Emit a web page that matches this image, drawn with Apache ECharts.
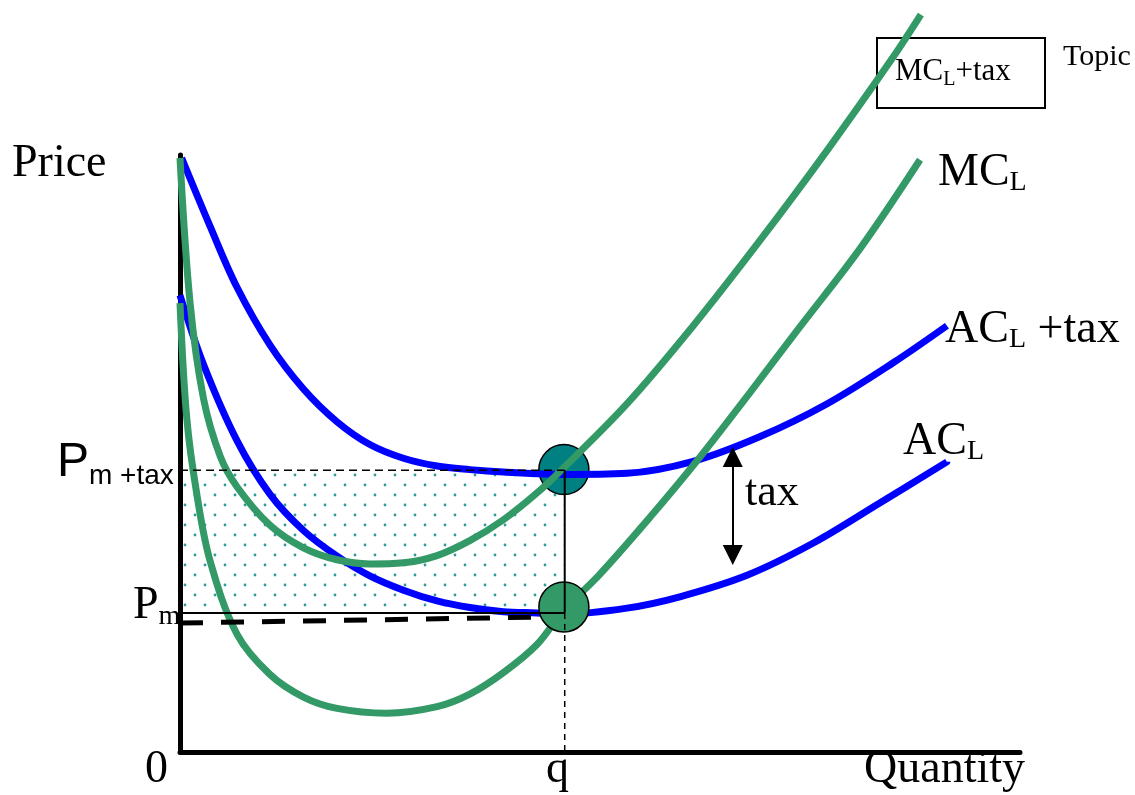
<!DOCTYPE html>
<html>
<head>
<meta charset="utf-8">
<script src="https://cdn.jsdelivr.net/npm/echarts@6/dist/echarts.min.js"></script>
<style>
  html, body { margin: 0; background: #fff; }
  #chart { width: 1135px; height: 795px; }
</style>
</head>
<body>
<div id="chart"></div>
<script>
// curves (quantity 0..10, price 0..10)
const acTaxQ = [0.02, 0.36, 0.68, 1.07, 1.47, 1.87, 2.26, 2.66, 3.06, 3.45, 3.85, 4.56, 5.32, 6.11, 6.90, 7.70, 8.49, 9.13]
const acTaxP = [9.95, 8.80, 7.78, 6.82, 6.08, 5.53, 5.15, 4.92, 4.79, 4.73, 4.69, 4.65, 4.67, 4.87, 5.28, 5.83, 6.52, 7.14]

const acQ = [0.0, 0.28, 0.68, 1.07, 1.47, 1.87, 2.26, 2.66, 3.06, 3.45, 3.85, 4.25, 4.56, 5.32, 5.95, 6.75, 7.54, 8.33, 9.13]
const acP = [7.65, 6.49, 5.21, 4.32, 3.71, 3.28, 2.95, 2.71, 2.53, 2.42, 2.35, 2.33, 2.31, 2.41, 2.60, 2.96, 3.50, 4.17, 4.86]

const mcTaxQ = [0.0, 0.12, 0.28, 0.48, 0.68, 1.07, 1.47, 1.87, 2.26, 2.66, 3.06, 3.45, 3.85, 4.25, 4.56, 5.32, 6.11, 6.90, 7.70, 8.49, 8.82]
const mcTaxP = [9.95, 7.52, 5.92, 4.95, 4.44, 3.80, 3.42, 3.22, 3.15, 3.17, 3.29, 3.54, 3.89, 4.34, 4.75, 5.83, 7.14, 8.56, 10.07, 11.64, 12.35]

const mcQ = [0.0, 0.08, 0.20, 0.36, 0.68, 1.07, 1.47, 1.87, 2.46, 3.06, 3.45, 3.85, 4.25, 4.56, 5.00, 5.60, 6.15, 6.79, 7.38, 8.10, 8.81]
const mcP = [7.52, 5.60, 4.32, 3.19, 1.97, 1.30, 0.92, 0.73, 0.65, 0.76, 0.97, 1.33, 1.80, 2.36, 2.98, 3.94, 4.87, 6.03, 7.12, 8.44, 9.92]

// market points
const qOut = 4.58
const pmTax = 4.72
const pm = 2.33
const circleQ = [4.57, 4.57]
const circleP = [4.73, 2.43]
const oldPriceQ = [0.0, 4.29]
const oldPriceP = [2.16, 2.26]
// centres of the two arrow heads
const taxArrowQ = 6.58
const taxArrowP = [4.94, 3.30]

const BLUE = '#0000ff'
const GREEN = '#339966'
const SERIF = '"Liberation Serif", "Times New Roman", serif'
const SANS = '"Liberation Sans", Arial, sans-serif'

const zip = (xs, ys) => xs.map((x, i) => [x, ys[i]])

function dotPattern() {
  const c = document.createElement('canvas')
  c.width = 20
  c.height = 20
  const ctx = c.getContext('2d')
  ctx.fillStyle = '#2f9a9a'
  ;[[5, 5], [15, 15]].forEach(p => {
    ctx.beginPath()
    ctx.arc(p[0], p[1], 1.4, 0, Math.PI * 2)
    ctx.fill()
  })
  return c
}

function curve(name, data, color) {
  return {
    name: name,
    type: 'line',
    data: data,
    smooth: 0.35,
    showSymbol: false,
    clip: false,
    z: 2,
    lineStyle: { color: color, width: 7 },
    silent: true
  }
}

function guide(data, width, type) {
  return {
    type: 'line',
    data: data,
    showSymbol: false,
    clip: false,
    z: 4,
    lineStyle: { color: '#000', width: width, type: type },
    silent: true
  }
}

function circle(point, color, z) {
  return {
    type: 'scatter',
    data: [point],
    symbolSize: 50,
    z: z,
    itemStyle: { color: color, borderColor: '#000', borderWidth: 1.5, opacity: 1 },
    silent: true
  }
}

// text pieces laid out left to right on a baseline, subscripts dropped
const measureCtx = document.createElement('canvas').getContext('2d')
function label(x, baseline, parts) {
  const out = []
  let cx = x
  parts.forEach(p => {
    const font = p[1] + 'px ' + p[2]
    out.push({
      type: 'text',
      x: cx,
      y: baseline + (p[3] || 0) - 0.32 * p[1],
      style: { text: p[0], font: font, fill: '#000', verticalAlign: 'middle' }
    })
    measureCtx.font = font
    cx += measureCtx.measureText(p[0]).width
  })
  return out
}

const chart = echarts.init(document.getElementById('chart'))

chart.setOption({
  animation: false,
  backgroundColor: '#fff',
  grid: { left: 180, top: 155, width: 840, height: 597 },
  xAxis: {
    type: 'value',
    min: 0,
    max: 10,
    axisLine: { lineStyle: { color: '#000', width: 5 } },
    axisTick: { show: false },
    axisLabel: { show: false },
    splitLine: { show: false }
  },
  yAxis: {
    type: 'value',
    min: 0,
    max: 10,
    axisLine: { show: true, lineStyle: { color: '#000', width: 5 } },
    axisTick: { show: false },
    axisLabel: { show: false },
    splitLine: { show: false }
  },
  series: [
    {
      type: 'line',
      data: [],
      z: 0,
      markArea: {
        silent: true,
        itemStyle: { color: { image: dotPattern(), repeat: 'repeat' } },
        data: [[{ coord: [0, pm] }, { coord: [qOut, pmTax] }]]
      }
    },
    circle([circleQ[0], circleP[0]], '#008080', 1),
    curve('AC_L +tax', zip(acTaxQ, acTaxP), BLUE),
    curve('AC_L', zip(acQ, acP), BLUE),
    curve('MC_L +tax', zip(mcTaxQ, mcTaxP), GREEN),
    curve('MC_L', zip(mcQ, mcP), GREEN),
    circle([circleQ[1], circleP[1]], GREEN, 3),
    Object.assign(guide(zip(oldPriceQ, oldPriceP), 5, [23, 18]), { z: 3 }),
    guide([[0, pmTax], [qOut, pmTax]], 1.5, [8, 5]),
    guide([[0, pm], [qOut, pm]], 2, 'solid'),
    guide([[qOut, pmTax], [qOut, pm]], 2, 'solid'),
    guide([[qOut, pm], [qOut, 0]], 1.5, [6, 5]),
    {
      type: 'line',
      data: [],
      z: 4,
      markLine: {
        silent: true,
        symbol: ['triangle', 'triangle'],
        symbolSize: [20, 20],
        label: { show: false },
        lineStyle: { color: '#000', width: 2, type: 'solid' },
        data: [[{ coord: [taxArrowQ, taxArrowP[0]] }, { coord: [taxArrowQ, taxArrowP[1]] }]]
      }
    }
  ],
  graphic: [].concat(
    label(12, 179, [['Price', 46, SERIF]]),
    label(145, 785, [['0', 46, SERIF]]),
    label(546, 785, [['q', 46, SERIF]]),
    label(864, 785, [['Quantity', 46, SERIF]]),
    label(938, 188, [['MC', 46, SERIF], ['L', 28, SERIF, 4]]),
    label(945, 345, [['AC', 46, SERIF], ['L', 28, SERIF, 4], [' +tax', 46, SERIF]]),
    label(903, 457, [['AC', 46, SERIF], ['L', 28, SERIF, 4]]),
    label(745, 508, [['tax', 44, SERIF]]),
    label(57, 478, [['P', 48, SANS], ['m +tax', 28, SANS, 7]]),
    label(133, 621, [['P', 46, SERIF], ['m', 28, SERIF, 5]]),
    [{
      type: 'rect',
      shape: { x: 877, y: 38, width: 168, height: 70 },
      style: { fill: 'none', stroke: '#000', lineWidth: 2 }
    }],
    label(895, 82, [['MC', 31, SERIF], ['L', 20, SERIF, 4], ['+tax', 31, SERIF]]),
    label(1063, 67, [['Topic', 30, SERIF]])
  )
})
</script>
</body>
</html>
